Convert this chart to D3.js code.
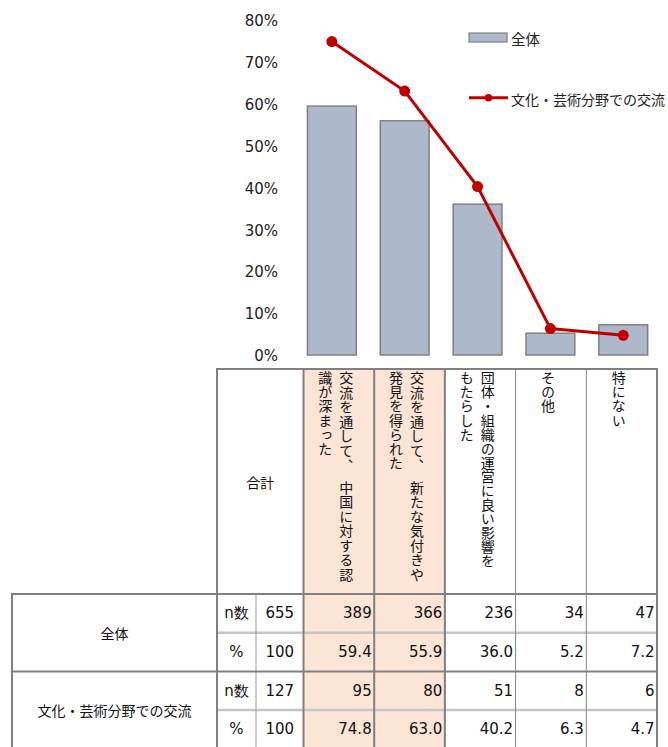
<!DOCTYPE html>
<html>
<head>
<meta charset="utf-8">
<script src="https://cdn.jsdelivr.net/npm/d3@7"></script>
<style>
  body { margin: 0; background: #fff; }
  svg { display: block; }
</style>
</head>
<body>
<svg id="chart" width="668" height="747"></svg>
<script>
// ---- data ----
const categories = [
  "交流を通して、　中国に対する認\n識が深まった",
  "交流を通して、　新たな気付きや\n発見を得られた",
  "団体・組織の運営に良い影響を\nもたらした",
  "その他",
  "特にない"
];
const highlighted = [true, true, false, false, false];
const groups = ["全体", "文化・芸術分野での交流"];
const rowKinds = ["n数", "%"];
const totalN = [655, 127];
const totalPct = [100, 100];
const countAll = [389, 366, 236, 34, 47];
const pctAll = [59.4, 55.9, 36.0, 5.2, 7.2];
const countCulture = [95, 80, 51, 8, 6];
const pctCulture = [74.8, 63.0, 40.2, 6.3, 4.7];
const yTicks = [0, 10, 20, 30, 40, 50, 60, 70, 80];
const totalLabel = "合計";

// ---- styles ----
const barFill = "#adb9ca", barStroke = "#808080";
const lineColor = "#c00000";
const peach = "#fce4d6";
const gridDark = "#808080", gridLight = "#c6c6c6";
const latin = "'DejaVu Sans', Verdana, sans-serif";
const cjk = "'Noto Sans CJK JP', 'Noto Sans', sans-serif";

const svg = d3.select("#chart");

// ---- chart scales ----
const idx = d3.range(categories.length);
const x = d3.scaleBand().domain(idx).range([295.4, 659.7])
  .paddingInner(0.33).paddingOuter(0.165);
const y = d3.scaleLinear().domain([0, 80]).range([355, 19.8]);

// ---- table layout ----
const tableLeft = 12, labelRight = 217, kindRight = 256;
const headerTop = 369, bodyTop = 594, rowH = 38.7;
const colX = d3.scaleBand().domain(idx).range([303.5, 657]);
const totalLeft = colX.range()[0], tableRight = colX.range()[1];
const rowY = i => bodyTop + i * rowH;
const bottom = rowY(4);

// highlighted column fills
svg.append("g").selectAll("rect")
  .data(idx.filter(i => highlighted[i]))
  .join("rect")
  .attr("x", i => colX(i)).attr("y", headerTop)
  .attr("width", colX.bandwidth()).attr("height", bottom - headerTop)
  .attr("fill", peach);

// ---- y tick labels ----
svg.append("g").selectAll("text")
  .data(yTicks).join("text")
  .attr("x", 278).attr("y", d => y(d) + 1.2)
  .attr("text-anchor", "end").attr("dominant-baseline", "central")
  .style("font-family", latin).style("font-size", "15px").attr("fill", "#222")
  .text(d => d + "%");

// ---- bars (全体) ----
svg.append("g").selectAll("rect")
  .data(pctAll).join("rect")
  .attr("x", (d, i) => x(i)).attr("y", d => y(d))
  .attr("width", x.bandwidth()).attr("height", d => y(0) - y(d))
  .attr("fill", barFill).attr("stroke", barStroke).attr("stroke-width", 1.5);

// ---- line (文化・芸術分野での交流) ----
const cx = i => x(i) + x.bandwidth() / 2;
svg.append("path")
  .datum(pctCulture)
  .attr("d", d3.line().x((d, i) => cx(i)).y(d => y(d)))
  .attr("fill", "none").attr("stroke", lineColor).attr("stroke-width", 3);
svg.append("g").selectAll("circle")
  .data(pctCulture).join("circle")
  .attr("cx", (d, i) => cx(i)).attr("cy", d => y(d)).attr("r", 5.5)
  .attr("fill", lineColor);

// ---- legend ----
const lg = svg.append("g").attr("transform", "translate(469,0)");
lg.append("rect").attr("x", 0).attr("y", 33).attr("width", 38).attr("height", 9)
  .attr("fill", barFill).attr("stroke", barStroke).attr("stroke-width", 1.2);
lg.append("text").attr("x", 42).attr("y", 38.5).attr("dominant-baseline", "central")
  .style("font-family", cjk).style("font-size", "14.5px").attr("fill", "#222")
  .text(groups[0]);
lg.append("line").attr("x1", 0).attr("x2", 39).attr("y1", 97.7).attr("y2", 97.7)
  .attr("stroke", lineColor).attr("stroke-width", 3);
lg.append("circle").attr("cx", 19.5).attr("cy", 97.7).attr("r", 3.8).attr("fill", lineColor);
lg.append("text").attr("x", 42).attr("y", 98.5).attr("dominant-baseline", "central")
  .style("font-family", cjk).style("font-size", "14px").attr("fill", "#222")
  .text(groups[1]);

// ---- table header ----
svg.append("text")
  .attr("x", (labelRight + totalLeft) / 2).attr("y", (headerTop + bodyTop) / 2)
  .attr("text-anchor", "middle").attr("dominant-baseline", "central")
  .style("font-family", cjk).style("font-size", "14px").attr("fill", "#111")
  .text(totalLabel);

// vertical header labels (columns run right to left); the glyph pitch is
// tuned with letter-spacing so the first column fills the header height
const colStep = 21, textTop = headerTop + 2, textBottom = bodyTop - 12;
const hdr = svg.append("g")
  .style("font-family", cjk).style("font-size", "14px").attr("fill", "#111");
idx.forEach(i => {
  const lines = categories[i].split("\n");
  const pitch = (textBottom - textTop) / Math.max(Array.from(lines[0]).length, 15);
  const center = colX(i) + colX.bandwidth() / 2 - 3;
  lines.forEach((ln, k) => {
    const n = Array.from(ln).length;
    const t = hdr.append("text")
      .attr("x", center + ((lines.length - 1) / 2 - k) * colStep)
      .attr("y", textTop)
      .style("writing-mode", "vertical-rl")
      .text(ln);
    const len = t.node().getComputedTextLength();
    if (len > 0) t.style("letter-spacing", ((pitch * n - len) / n) + "px");
  });
});

// ---- table body ----
const bodyRows = [
  { kind: 0, total: totalN[0], vals: countAll, fmt: d3.format("d") },
  { kind: 1, total: totalPct[0], vals: pctAll, fmt: d3.format(".1f") },
  { kind: 0, total: totalN[1], vals: countCulture, fmt: d3.format("d") },
  { kind: 1, total: totalPct[1], vals: pctCulture, fmt: d3.format(".1f") }
];

groups.forEach((g, gi) => {
  svg.append("text")
    .attr("x", (tableLeft + labelRight) / 2).attr("y", rowY(gi * 2 + 1))
    .attr("text-anchor", "middle").attr("dominant-baseline", "central")
    .style("font-family", cjk).style("font-size", "14px").attr("fill", "#111")
    .text(g);
});

bodyRows.forEach((r, ri) => {
  const cy = rowY(ri) + rowH / 2;
  svg.append("text")
    .attr("x", (labelRight + kindRight) / 2).attr("y", cy)
    .attr("text-anchor", "middle").attr("dominant-baseline", "central")
    .style("font-family", latin).style("font-size", "15px").attr("fill", "#111")
    .text(rowKinds[r.kind]);
  svg.append("text")
    .attr("x", (kindRight + totalLeft) / 2).attr("y", cy)
    .attr("text-anchor", "middle").attr("dominant-baseline", "central")
    .style("font-family", latin).style("font-size", "15px").attr("fill", "#111")
    .text(r.total);
  r.vals.forEach((v, i) => {
    svg.append("text")
      .attr("x", colX(i) + colX.bandwidth() - 2.5).attr("y", cy)
      .attr("text-anchor", "end").attr("dominant-baseline", "central")
      .style("font-family", latin).style("font-size", "15px").attr("fill", "#111")
      .text(r.fmt(v));
  });
});

// ---- table grid ----
const grid = svg.append("g").attr("fill", "none");
const hline = (y0, x1, x2, c, w) => grid.append("line")
  .attr("x1", x1).attr("x2", x2).attr("y1", y0).attr("y2", y0)
  .attr("stroke", c).attr("stroke-width", w);
const vline = (x0, y1, y2, c, w) => grid.append("line")
  .attr("x1", x0).attr("x2", x0).attr("y1", y1).attr("y2", y2)
  .attr("stroke", c).attr("stroke-width", w);

hline(rowY(1), labelRight, tableRight, gridLight, 2.5);
hline(rowY(3), labelRight, tableRight, gridLight, 2.5);
vline(kindRight, bodyTop, bottom, "#9a9a9a", 1);
idx.forEach(i => {
  if (i === 0) return;
  const thick = highlighted[i] || highlighted[i - 1];
  vline(colX(i), headerTop, bottom, gridDark, thick ? 2 : 1);
});
vline(totalLeft, headerTop, bottom, gridDark, 2);
vline(tableRight, headerTop - 1, bottom, gridDark, 2);
vline(labelRight, headerTop - 1, bottom, gridDark, 2);
vline(tableLeft, bodyTop - 1, bottom, gridDark, 2);
hline(headerTop, labelRight - 1, tableRight + 1, gridDark, 2);
hline(bodyTop, tableLeft - 1, tableRight + 1, gridDark, 2);
hline(rowY(2), tableLeft - 1, tableRight + 1, gridDark, 2);
hline(bottom, tableLeft - 1, tableRight + 1, gridDark, 2);
</script>
</body>
</html>
